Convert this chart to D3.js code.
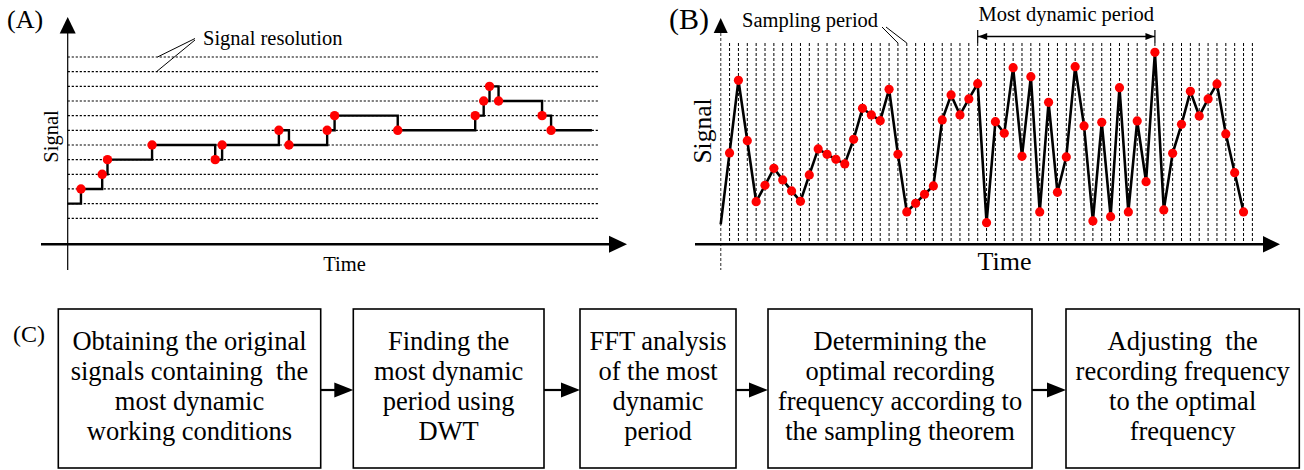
<!DOCTYPE html>
<html>
<head>
<meta charset="utf-8">
<script src="https://cdn.jsdelivr.net/npm/d3@7"></script>
<style>
  body { margin: 0; background: #fff; }
  text { font-family: "Liberation Serif", "Times New Roman", serif; fill: #000; }
</style>
</head>
<body>
<div id="chart"></div>
<script>
// Data

// (A) quantised signal: resolution levels and step changes
var resolutionLevels = [0, 1, 2, 3, 4, 5, 6, 7, 8, 9, 10, 11];
var stepTimesA  = [0, 2.5, 6.5, 7.5, 15.9, 27.8, 29.1, 39.8, 41.7, 48.9, 50.3, 62.2, 76.8, 78.4, 79.5, 81.2, 89.4, 91.1];
var stepLevelsA = [1, 2,   3,   4,   5,    4,    5,    6,    5,    6,    7,    6,    7,    8,    9,    8,    7,    6];
var endTimeA = 98.8;

// (B) sampled signal, one value per sampling period (index 0 = start on the axis)
var sampleValuesB = [1.0, 4.57, 8.2, 5.18, 2.13, 2.95, 3.8, 3.22, 2.67, 2.15, 3.47,
  4.77, 4.5, 4.25, 4.02, 5.25, 6.8, 6.47, 6.18, 7.75, 4.5,
  1.62, 2.05, 2.5, 2.92, 6.22, 7.47, 6.47, 7.27, 8.03, 1.08,
  6.13, 5.55, 8.83, 4.4, 8.38, 1.62, 7.1, 2.6, 4.37, 8.88,
  5.92, 1.17, 6.1, 1.38, 7.83, 1.62, 6.17, 3.13, 9.6, 1.72,
  4.55, 6.0, 7.65, 6.42, 7.27, 8.02, 5.52, 3.58, 1.62];
var samplingPeriodsB = 60;
var dynamicPeriod = [29, 49];
var samplingLeaderIdx = [20, 21];

// (C) flow chart
var steps = [
  ["Obtaining the original", "signals containing  the", "most dynamic", "working conditions"],
  ["Finding the", "most dynamic", "period using", "DWT"],
  ["FFT analysis", "of the most", "dynamic", "period"],
  ["Determining the", "optimal recording", "frequency according to", "the sampling theorem"],
  ["Adjusting  the", "recording frequency", "to the optimal", "frequency"]
];

var svgWidth = 1304;
var svgHeight = 470;

var svg = d3.select("#chart")
  .append("svg")
  .attr("width", svgWidth)
  .attr("height", svgHeight);

svg.append("rect").attr("width", svgWidth).attr("height", svgHeight).attr("fill", "#fff");

function tri(g, pts, fill) {
  g.append("path")
    .attr("d", "M" + pts.map(p => p.join(",")).join("L") + "Z")
    .attr("fill", fill || "#000");
}

// ---------- Panel A ----------
var gA = svg.append("g");
var xA = d3.scaleLinear().domain([0, 100]).range([67.7, 598.3]);
var yA = d3.scaleLinear().domain([0, 11]).range([218.3, 57]);
var axisYA = 244.3;

gA.selectAll("line.res")
  .data(resolutionLevels)
  .enter()
  .append("line")
  .attr("class", "res")
  .attr("x1", xA(0)).attr("x2", xA(100))
  .attr("y1", d => yA(d)).attr("y2", d => yA(d))
  .attr("stroke", "#000")
  .attr("stroke-width", 1.2)
  .attr("stroke-dasharray", "2.2,1.8");

// axes
gA.append("line").attr("x1", xA(0)).attr("x2", xA(0)).attr("y1", 33).attr("y2", 270)
  .attr("stroke", "#000").attr("stroke-width", 1.2);
tri(gA, [[xA(0), 17], [xA(0) - 8, 33.5], [xA(0) + 8, 33.5]]);
gA.append("line").attr("x1", 41).attr("x2", 612).attr("y1", axisYA).attr("y2", axisYA)
  .attr("stroke", "#000").attr("stroke-width", 2.4);
tri(gA, [[627, axisYA], [609, axisYA - 8.5], [609, axisYA + 8.5]]);

var stepData = stepTimesA.map((t, i) => ({ t: t, v: stepLevelsA[i] }));
var stepLine = d3.line()
  .x(d => xA(d.t))
  .y(d => yA(d.v))
  .curve(d3.curveStepAfter);

gA.append("path")
  .datum(stepData.concat([{ t: endTimeA, v: stepLevelsA[stepLevelsA.length - 1] }]))
  .attr("d", stepLine)
  .attr("fill", "none")
  .attr("stroke", "#000")
  .attr("stroke-width", 2.4);

gA.selectAll("circle")
  .data(stepData.slice(1))
  .enter()
  .append("circle")
  .attr("cx", d => xA(d.t))
  .attr("cy", d => yA(d.v))
  .attr("r", 4.7)
  .attr("fill", "#ff0000");

// labels
gA.append("text").attr("x", 7).attr("y", 28).style("font-size", "26px").text("(A)");
gA.append("text").attr("x", 203).attr("y", 45).style("font-size", "20.5px").text("Signal resolution");
gA.append("line").attr("x1", 195).attr("y1", 38.5).attr("x2", 157.5).attr("y2", yA(11))
  .attr("stroke", "#000").attr("stroke-width", 1);
gA.append("line").attr("x1", 195).attr("y1", 40).attr("x2", 156.5).attr("y2", yA(10))
  .attr("stroke", "#000").attr("stroke-width", 1);
gA.append("text")
  .attr("transform", "translate(50.5,136.5) rotate(-90)")
  .attr("text-anchor", "middle")
  .attr("dominant-baseline", "central")
  .style("font-size", "20.5px")
  .text("Signal");
gA.append("text").attr("x", 344.5).attr("y", 271).attr("text-anchor", "middle")
  .style("font-size", "20.5px").text("Time");

// ---------- Panel B ----------
var gB = svg.append("g");
var xB = d3.scaleLinear().domain([0, samplingPeriodsB]).range([720.7, 1252.4]);
var yB = d3.scaleLinear().domain([0, 10]).range([244.3, 44.3]);
var axisYB = 244.3;

gB.selectAll("line.period")
  .data(d3.range(1, samplingPeriodsB + 1))
  .enter()
  .append("line")
  .attr("class", "period")
  .attr("x1", d => xB(d)).attr("x2", d => xB(d))
  .attr("y1", 43).attr("y2", axisYB)
  .attr("stroke", "#000")
  .attr("stroke-width", 1)
  .attr("stroke-dasharray", "3,2");

// axes
gB.append("line").attr("x1", xB(0)).attr("x2", xB(0)).attr("y1", 33).attr("y2", 270)
  .attr("stroke", "#666").attr("stroke-width", 1.4).attr("stroke-dasharray", "3,2");
tri(gB, [[xB(0), 18], [xB(0) - 7, 33], [xB(0) + 7, 33]]);
gB.append("line").attr("x1", 695).attr("x2", 1265).attr("y1", axisYB).attr("y2", axisYB)
  .attr("stroke", "#000").attr("stroke-width", 2.6);
tri(gB, [[1280, axisYB], [1263, axisYB - 8.3], [1263, axisYB + 8.3]]);

var sampleData = sampleValuesB.map((v, i) => ({ i: i, v: v }));
var sampleLine = d3.line().x(d => xB(d.i)).y(d => yB(d.v));

gB.append("path")
  .datum(sampleData)
  .attr("d", sampleLine)
  .attr("fill", "none")
  .attr("stroke", "#000")
  .attr("stroke-width", 2.6);

gB.selectAll("circle")
  .data(sampleData.slice(1))
  .enter()
  .append("circle")
  .attr("cx", d => xB(d.i))
  .attr("cy", d => yB(d.v))
  .attr("r", 4.6)
  .attr("fill", "#ff0000");

// most dynamic period marker
var dx0 = xB(dynamicPeriod[0]), dx1 = xB(dynamicPeriod[1]);
gB.append("line").attr("x1", dx0).attr("x2", dx1).attr("y1", 36.5).attr("y2", 36.5)
  .attr("stroke", "#000").attr("stroke-width", 1.3);
[dx0, dx1].forEach(function(x) {
  gB.append("line").attr("x1", x).attr("x2", x).attr("y1", 30).attr("y2", 43)
    .attr("stroke", "#000").attr("stroke-width", 1.2);
});
tri(gB, [[dx0 + 0.5, 36.5], [dx0 + 9.5, 33], [dx0 + 9.5, 40]]);
tri(gB, [[dx1 - 0.5, 36.5], [dx1 - 9.5, 33], [dx1 - 9.5, 40]]);
gB.append("text").attr("x", (dx0 + dx1) / 2).attr("y", 21).attr("text-anchor", "middle")
  .style("font-size", "20.5px").text("Most dynamic period");

// labels
gB.append("text").attr("x", 669).attr("y", 29).style("font-size", "30px").text("(B)");
gB.append("text").attr("x", 742).attr("y", 27).style("font-size", "20.5px").text("Sampling period");
gB.append("line").attr("x1", 882).attr("y1", 27).attr("x2", xB(samplingLeaderIdx[0])).attr("y2", 43)
  .attr("stroke", "#000").attr("stroke-width", 1);
gB.append("line").attr("x1", 886).attr("y1", 27).attr("x2", xB(samplingLeaderIdx[1])).attr("y2", 43)
  .attr("stroke", "#000").attr("stroke-width", 1);
gB.append("text")
  .attr("transform", "translate(702.5,131) rotate(-90)")
  .attr("text-anchor", "middle")
  .attr("dominant-baseline", "central")
  .style("font-size", "25.5px")
  .text("Signal");
gB.append("text").attr("x", 1004.5).attr("y", 270).attr("text-anchor", "middle")
  .style("font-size", "26px").text("Time");

// ---------- Panel C ----------
var gC = svg.append("g");
var boxEdges = [[58.3, 320.7], [353.3, 544], [580, 736], [768, 1032], [1066, 1299.3]];
var boxTop = 309, boxBottom = 468, arrowY = 390;

gC.append("text").attr("x", 13).attr("y", 341.5).style("font-size", "24px").text("(C)");

var boxes = gC.selectAll("g.box")
  .data(steps)
  .enter()
  .append("g")
  .attr("class", "box");

boxes.append("rect")
  .attr("x", (d, i) => boxEdges[i][0])
  .attr("y", boxTop)
  .attr("width", (d, i) => boxEdges[i][1] - boxEdges[i][0])
  .attr("height", boxBottom - boxTop)
  .attr("fill", "#fff")
  .attr("stroke", "#000")
  .attr("stroke-width", 1.6);

boxes.each(function(lines, i) {
  var cx = (boxEdges[i][0] + boxEdges[i][1]) / 2;
  d3.select(this).selectAll("text")
    .data(lines)
    .enter()
    .append("text")
    .attr("x", cx)
    .attr("y", (d, j) => 350 + j * 30)
    .attr("text-anchor", "middle")
    .attr("xml:space", "preserve")
    .style("white-space", "pre")
    .style("font-size", "26.5px")
    .text(d => d);
});

for (var i = 0; i < boxEdges.length - 1; i++) {
  var x0 = boxEdges[i][1], x1 = boxEdges[i + 1][0];
  gC.append("line").attr("x1", x0).attr("x2", x1 - 15).attr("y1", arrowY).attr("y2", arrowY)
    .attr("stroke", "#000").attr("stroke-width", 2.2);
  tri(gC, [[x1, arrowY], [x1 - 19, arrowY - 7.5], [x1 - 19, arrowY + 7.5]]);
}
</script>
</body>
</html>
